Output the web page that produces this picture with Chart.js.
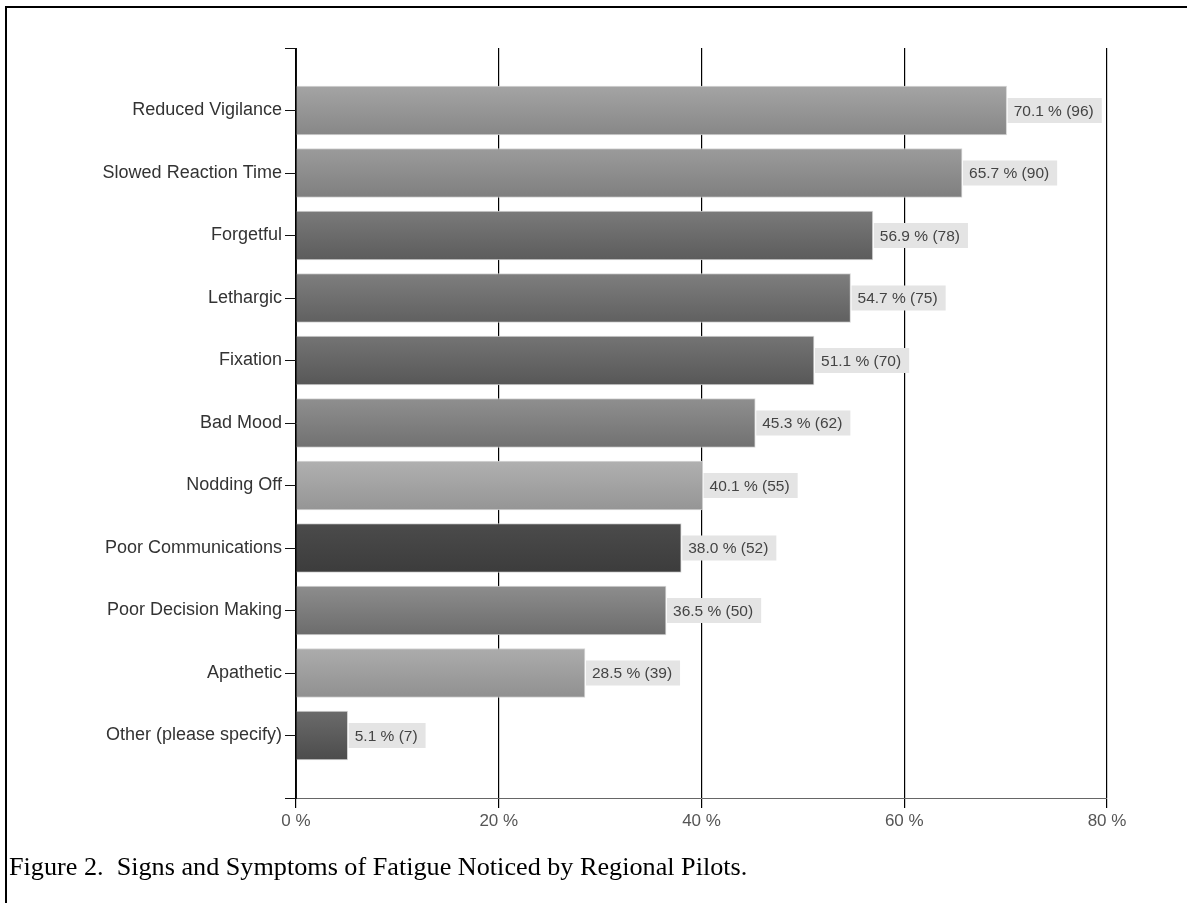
<!DOCTYPE html>
<html>
<head>
<meta charset="utf-8">
<script src="https://cdn.jsdelivr.net/npm/chart.js@4.4.1/dist/chart.umd.min.js"></script>
<style>
    html, body { margin: 0; padding: 0; background: #fff; }
    #page { position: relative; width: 1187px; height: 903px; overflow: hidden; }
    #frameTop { position: absolute; left: 5px; top: 6px; width: 1182px; height: 2px; background: #000; }
    #frameLeft { position: absolute; left: 5px; top: 6px; width: 2px; height: 897px; background: #000; }
    #chartBox { position: absolute; left: 0; top: 0; width: 1187px; height: 903px; }
    #caption {
        position: absolute; left: 9px; top: 852px;
        font-family: "Liberation Serif", "Times New Roman", serif;
        font-size: 26.2px; color: #000; white-space: pre;
    }
</style>
</head>
<body>
<div id="page">
    <div id="chartBox"><canvas id="symptomsChart" width="1187" height="903"></canvas></div>
    <div id="frameTop"></div>
    <div id="frameLeft"></div>
    <div id="caption">Figure 2.  Signs and Symptoms of Fatigue Noticed by Regional Pilots.</div>
</div>

<script>
// categories and answers (percent of respondents, number of respondents)
const symptoms = [
    "Reduced Vigilance",
    "Slowed Reaction Time",
    "Forgetful",
    "Lethargic",
    "Fixation",
    "Bad Mood",
    "Nodding Off",
    "Poor Communications",
    "Poor Decision Making",
    "Apathetic",
    "Other (please specify)"
];
const percents = [70.1, 65.7, 56.9, 54.7, 51.1, 45.3, 40.1, 38.0, 36.5, 28.5, 5.1];
const counts = [96, 90, 78, 75, 70, 62, 55, 52, 50, 39, 7];
const axisTicks = [0, 20, 40, 60, 80];

// bar shades, top and bottom of the gradient
const shadeTop = ["#a4a4a4", "#9b9b9b", "#7a7a7a", "#7e7e7e", "#747474", "#8f8f8f", "#b0b0b0", "#4b4b4b", "#8d8d8d", "#acacac", "#6b6b6b"];
const shadeBottom = ["#878787", "#7f7f7f", "#5c5c5c", "#606060", "#575757", "#717171", "#959595", "#3c3c3c", "#6c6c6c", "#909090", "#4c4c4c"];

const BAR_H = 49;

// the axis keeps an empty slot above the first and below the last bar
const labels = ["", ...symptoms, ""];
const values = [null, ...percents, null];

function barFill(context) {
    const i = context.dataIndex - 1;
    const chart = context.chart;
    if (i < 0 || i >= symptoms.length) return "#888";
    if (!chart.chartArea || !chart.scales.y) return shadeTop[i];
    const yc = chart.scales.y.getPixelForValue(context.dataIndex);
    const g = chart.ctx.createLinearGradient(0, yc - BAR_H / 2, 0, yc + BAR_H / 2);
    g.addColorStop(0, shadeTop[i]);
    g.addColorStop(1, shadeBottom[i]);
    return g;
}

// grey tag with "xx.x % (n)" at the end of every bar
const valueTags = {
    id: "valueTags",
    afterDatasetsDraw(chart) {
        const ctx = chart.ctx;
        const meta = chart.getDatasetMeta(0);
        ctx.save();
        ctx.font = "15.5px 'Liberation Sans', Arial, sans-serif";
        ctx.textBaseline = "middle";
        meta.data.forEach((bar, idx) => {
            const i = idx - 1;
            if (i < 0 || i >= symptoms.length) return;
            const text = percents[i].toFixed(1) + " % (" + counts[i] + ")";
            const w = ctx.measureText(text).width;
            ctx.fillStyle = "#e4e4e4";
            ctx.fillRect(bar.x + 1, bar.y - 12.5, w + 14, 25);
            ctx.fillStyle = "#444";
            ctx.fillText(text, bar.x + 7, bar.y + 1);
        });
        ctx.restore();
    }
};

new Chart(document.getElementById("symptomsChart").getContext("2d"), {
    type: "bar",
    data: {
        labels,
        datasets: [{
            data: values,
            backgroundColor: barFill,
            borderColor: "rgba(210,210,210,0.9)",
            borderWidth: 1,
            barThickness: BAR_H
        }]
    },
    options: {
        indexAxis: "y",
        responsive: false,
        animation: false,
        devicePixelRatio: 1,
        layout: { padding: { left: 0, top: 48, right: 80, bottom: 75 } },
        plugins: {
            legend: { display: false },
            tooltip: { enabled: false }
        },
        scales: {
            x: {
                type: "linear",
                min: axisTicks[0],
                max: axisTicks[axisTicks.length - 1],
                afterBuildTicks(scale) {
                    scale.ticks = axisTicks.map(v => ({ value: v }));
                },
                afterFit(scale) { scale.height = 30; },
                ticks: {
                    callback: v => v + " %",
                    color: "#555",
                    padding: 3,
                    font: { family: "'Liberation Sans', Arial, sans-serif", size: 17 }
                },
                grid: { color: "#000", lineWidth: 1.2, tickLength: 10 },
                border: { color: "#666", width: 1 }
            },
            y: {
                type: "category",
                offset: false,
                afterFit(scale) { scale.width = 296; },
                ticks: {
                    autoSkip: false,
                    color: "#333",
                    padding: 3,
                    font: { family: "'Liberation Sans', Arial, sans-serif", size: 18 }
                },
                grid: { offset: false, drawOnChartArea: false, color: "#111", tickLength: 11 },
                border: { color: "#111", width: 1 }
            }
        }
    },
    plugins: [valueTags]
});
</script>
</body>
</html>
